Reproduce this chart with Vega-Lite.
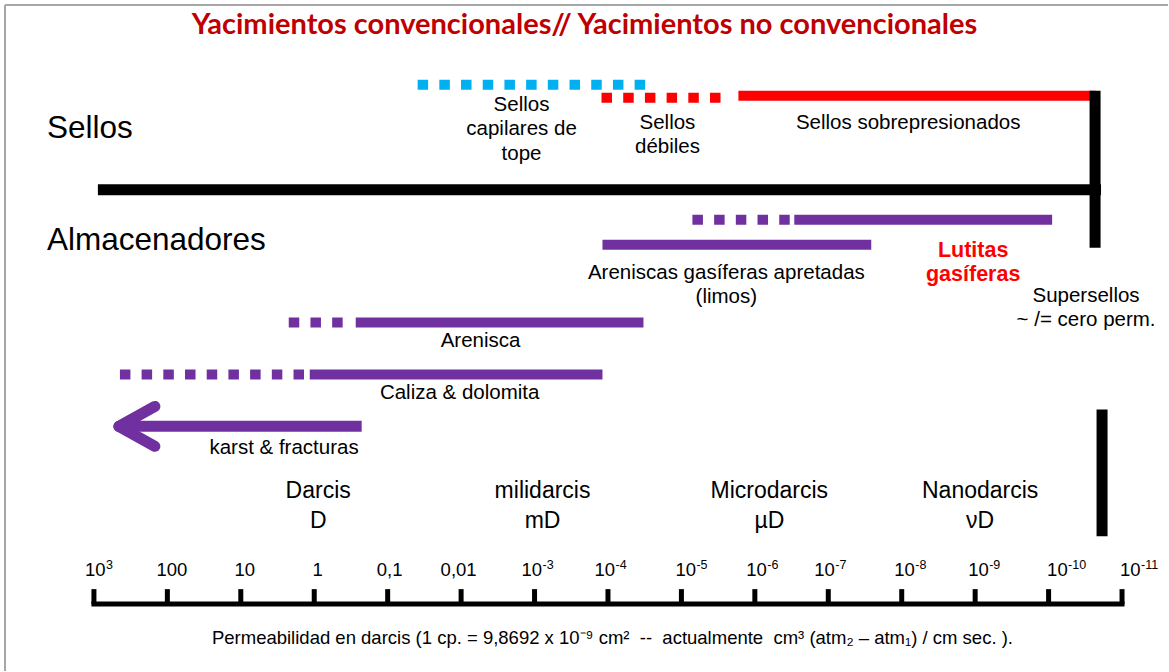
{
  "$schema": "https://vega.github.io/schema/vega-lite/v6.json",
  "width": 1169,
  "height": 672,
  "autosize": {"type": "fit", "contains": "padding"},
  "padding": 0,
  "background": "white",
  "config": {"view": {"stroke": null}, "text": {"font": "Liberation Sans"}},
  "encoding": {
    "x": {"field": "d", "type": "quantitative", "scale": {"domain": [4.279, -11.626], "nice": false, "zero": false}, "axis": null},
    "y": {"field": "y", "type": "quantitative", "scale": {"domain": [672, 0], "nice": false, "zero": false}, "axis": null}
  },
  "layer": [
    {
      "data": {"values": [
        {"d": 4.211, "d2": -11.626, "y": 5, "y2": 5},
        {"d": 4.211, "d2": 4.211, "y": 5, "y2": 672}
      ]},
      "mark": {"type": "rule", "stroke": "#A6A6A6", "strokeWidth": 2},
      "encoding": {"x2": {"field": "d2"}, "y2": {"field": "y2"}}
    },
    {
      "data": {"values": [
        {"grupo": "sellos", "d": -5.776, "d2": -10.646, "y": 96, "y2": 96},
        {"grupo": "almacen", "d": -6.537, "d2": -10.048, "y": 220, "y2": 220},
        {"grupo": "almacen", "d": -3.925, "d2": -7.585, "y": 245, "y2": 245},
        {"grupo": "almacen", "d": -0.565, "d2": -4.483, "y": 323, "y2": 323},
        {"grupo": "almacen", "d": 0.061, "d2": -3.925, "y": 375, "y2": 375}
      ]},
      "mark": {"type": "rule", "strokeWidth": 10, "strokeCap": "butt"},
      "encoding": {
        "x2": {"field": "d2"}, "y2": {"field": "y2"},
        "color": {"field": "grupo", "type": "nominal", "legend": null,
          "scale": {"domain": ["capilares", "sellos", "almacen", "limite"], "range": ["#00B0F0", "#FF0000", "#7030A0", "#000000"]}}
      }
    },
    {
      "data": {"values": [
        {"grupo": "capilares", "d": -1.408, "d2": -4.537, "y": 85, "y2": 85},
        {"grupo": "sellos", "d": -3.912, "d2": -5.571, "y": 98, "y2": 98},
        {"grupo": "almacen", "d": -5.150, "d2": -6.483, "y": 220, "y2": 220},
        {"grupo": "almacen", "d": 0.347, "d2": -0.401, "y": 323, "y2": 323},
        {"grupo": "almacen", "d": 2.646, "d2": 0.116, "y": 375, "y2": 375}
      ]},
      "mark": {"type": "rule", "strokeWidth": 10, "strokeCap": "butt", "strokeDash": [10.5, 11.2]},
      "encoding": {
        "x2": {"field": "d2"}, "y2": {"field": "y2"},
        "color": {"field": "grupo", "type": "nominal", "legend": null,
          "scale": {"domain": ["capilares", "sellos", "almacen", "limite"], "range": ["#00B0F0", "#FF0000", "#7030A0", "#000000"]}}
      }
    },
    {
      "data": {"values": [
        {"grupo": "almacen", "d": 2.660, "d2": -0.646, "y": 427, "y2": 427}
      ]},
      "mark": {"type": "rule", "strokeWidth": 11, "strokeCap": "butt"},
      "encoding": {
        "x2": {"field": "d2"}, "y2": {"field": "y2"},
        "color": {"field": "grupo", "type": "nominal", "legend": null,
          "scale": {"domain": ["capilares", "sellos", "almacen", "limite"], "range": ["#00B0F0", "#FF0000", "#7030A0", "#000000"]}}
      }
    },
    {
      "data": {"values": [
        {"grupo": "almacen", "d": 2.660, "d2": 2.170, "y": 427, "y2": 407},
        {"grupo": "almacen", "d": 2.660, "d2": 2.170, "y": 427, "y2": 447}
      ]},
      "mark": {"type": "rule", "strokeWidth": 11, "strokeCap": "round"},
      "encoding": {
        "x2": {"field": "d2"}, "y2": {"field": "y2"},
        "color": {"field": "grupo", "type": "nominal", "legend": null,
          "scale": {"domain": ["capilares", "sellos", "almacen", "limite"], "range": ["#00B0F0", "#FF0000", "#7030A0", "#000000"]}}
      }
    },
    {
      "data": {"values": [
        {"d": 2.946, "d2": -10.714, "y": 190, "y2": 190},
        {"d": -10.633, "d2": -10.633, "y": 91, "y2": 248},
        {"d": -10.728, "d2": -10.728, "y": 410, "y2": 537}
      ]},
      "mark": {"type": "rule", "strokeWidth": 11, "strokeCap": "butt", "stroke": "#000000"},
      "encoding": {"x2": {"field": "d2"}, "y2": {"field": "y2"}}
    },
    {
      "data": {"values": [
        {"d": 3, "d2": -11, "y": 605, "y2": 605}
      ]},
      "mark": {"type": "rule", "strokeWidth": 5, "strokeCap": "square", "stroke": "#000000"},
      "encoding": {"x2": {"field": "d2"}, "y2": {"field": "y2"}}
    },
    {
      "data": {"values": [
        {"d": 3, "y": 590, "y2": 605}, {"d": 2, "y": 590, "y2": 605}, {"d": 1, "y": 590, "y2": 605},
        {"d": 0, "y": 590, "y2": 605}, {"d": -1, "y": 590, "y2": 605}, {"d": -2, "y": 590, "y2": 605},
        {"d": -3, "y": 590, "y2": 605}, {"d": -4, "y": 590, "y2": 605}, {"d": -5, "y": 590, "y2": 605},
        {"d": -6, "y": 590, "y2": 605}, {"d": -7, "y": 590, "y2": 605}, {"d": -8, "y": 590, "y2": 605},
        {"d": -9, "y": 590, "y2": 605}, {"d": -10, "y": 590, "y2": 605}, {"d": -11, "y": 590, "y2": 605}
      ]},
      "mark": {"type": "rule", "strokeWidth": 5, "strokeCap": "butt", "stroke": "#000000"},
      "encoding": {"y2": {"field": "y2"}}
    },
    {
      "data": {"values": [
        {"d": 1.939, "y": 577, "t": "100"},
        {"d": 0.946, "y": 577, "t": "10"},
        {"d": -0.048, "y": 577, "t": "1"},
        {"d": -1.027, "y": 577, "t": "0,1"},
        {"d": -1.966, "y": 577, "t": "0,01"}
      ]},
      "mark": {"type": "text", "fontSize": 18.5, "align": "center", "baseline": "alphabetic", "color": "#000000"},
      "encoding": {"text": {"field": "t"}}
    },
    {
      "data": {"name": "potencias", "values": [
        {"d": 3.122, "y": 577, "t": "10", "e": "3"},
        {"d": -2.823, "y": 577, "t": "10", "e": "-3"},
        {"d": -3.816, "y": 577, "t": "10", "e": "-4"},
        {"d": -4.918, "y": 577, "t": "10", "e": "-5"},
        {"d": -5.884, "y": 577, "t": "10", "e": "-6"},
        {"d": -6.810, "y": 577, "t": "10", "e": "-7"},
        {"d": -7.898, "y": 577, "t": "10", "e": "-8"},
        {"d": -8.905, "y": 577, "t": "10", "e": "-9"},
        {"d": -9.980, "y": 577, "t": "10", "e": "-10"},
        {"d": -10.973, "y": 577, "t": "10", "e": "-11"}
      ]},
      "layer": [
        {
          "mark": {"type": "text", "fontSize": 18.5, "align": "left", "baseline": "alphabetic", "color": "#000000"},
          "encoding": {"text": {"field": "t"}}
        },
        {
          "mark": {"type": "text", "fontSize": 12.5, "align": "left", "baseline": "alphabetic", "dx": 21, "dy": -7, "color": "#000000"},
          "encoding": {"text": {"field": "e"}}
        }
      ]
    },
    {
      "data": {"values": [
        {"d": 3.639, "y": 138, "t": "Sellos"},
        {"d": 3.639, "y": 250, "t": "Almacenadores"}
      ]},
      "mark": {"type": "text", "fontSize": 31.5, "align": "left", "baseline": "alphabetic", "color": "#000000"},
      "encoding": {"text": {"field": "t"}}
    },
    {
      "data": {"values": [
        {"d": -2.823, "y": 111, "t": "Sellos\ncapilares de\ntope"},
        {"d": -4.810, "y": 129, "t": "Sellos\ndébiles"},
        {"d": -8.088, "y": 129, "t": "Sellos sobrepresionados"},
        {"d": -5.612, "y": 279, "t": "Areniscas gasíferas apretadas\n(limos)"},
        {"d": -10.510, "y": 302, "t": "Supersellos\n~ /= cero perm."},
        {"d": -2.265, "y": 348, "t": "Arenisca"},
        {"d": -1.980, "y": 400, "t": "Caliza & dolomita"}
      ]},
      "mark": {"type": "text", "fontSize": 20.5, "align": "center", "baseline": "alphabetic", "lineBreak": "\n", "lineHeight": 24.5, "color": "#000000"},
      "encoding": {"text": {"field": "t"}}
    },
    {
      "data": {"values": [
        {"d": -0.605, "y": 455, "t": "karst & fracturas"}
      ]},
      "mark": {"type": "text", "fontSize": 20.5, "align": "right", "baseline": "alphabetic", "color": "#000000"},
      "encoding": {"text": {"field": "t"}}
    },
    {
      "data": {"values": [
        {"d": -8.973, "y": 257, "t": "Lutitas\ngasíferas"}
      ]},
      "mark": {"type": "text", "fontSize": 21.5, "fontWeight": "bold", "align": "center", "baseline": "alphabetic", "lineBreak": "\n", "lineHeight": 24, "color": "#FF0000"},
      "encoding": {"text": {"field": "t"}}
    },
    {
      "data": {"values": [
        {"d": -0.054, "y": 499, "t": "Darcis\nD"},
        {"d": -3.109, "y": 499, "t": "milidarcis\nmD"},
        {"d": -6.197, "y": 499, "t": "Microdarcis\nµD"},
        {"d": -9.068, "y": 499, "t": "Nanodarcis\nνD"}
      ]},
      "mark": {"type": "text", "fontSize": 23, "align": "center", "baseline": "alphabetic", "lineBreak": "\n", "lineHeight": 30, "color": "#000000"},
      "encoding": {"text": {"field": "t"}}
    },
    {
      "data": {"values": [
        {"d": -3.680, "y": 34, "t": "Yacimientos convencionales// Yacimientos no convencionales"}
      ]},
      "mark": {"type": "text", "font": "Lato", "fontSize": 29, "fontWeight": "bold", "align": "center", "baseline": "alphabetic", "color": "#C00000"},
      "encoding": {"text": {"field": "t"}}
    },
    {
      "data": {"values": [
        {"d": -4.061, "y": 645, "t": "Permeabilidad en darcis (1 cp. = 9,8692 x 10⁻⁹ cm²\u00a0 --\u00a0 actualmente\u00a0 cm³ (atm₂ – atm₁) / cm sec. )."}
      ]},
      "mark": {"type": "text", "fontSize": 18.5, "align": "center", "baseline": "alphabetic", "color": "#000000"},
      "encoding": {"text": {"field": "t"}}
    }
  ]
}
